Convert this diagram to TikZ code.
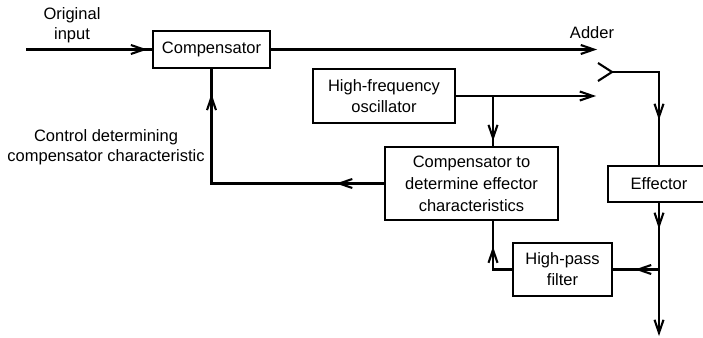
\documentclass[tikz,border=0pt]{standalone}
\usepackage{fontspec}
\setmainfont{Liberation Sans}
\usetikzlibrary{arrows.meta,positioning,calc,decorations.markings}
\tikzset{
  >={Straight Barb[length=13pt,width=9pt]},
  blk/.style={draw,line width=1.8pt,align=center,inner sep=0pt,font=\fontsize{16.5}{21}\selectfont},
  lab/.style={align=center,font=\fontsize{16.5}{20}\selectfont},
  wire/.style={line width=2.1pt},
  arr/.style={wire,->},
  midarr/.style={postaction={decorate,decoration={markings,mark=at position #1 with {\arrow[line width=2.1pt]{>}}}}},
}
\begin{document}
\begin{tikzpicture}[x=1pt,y=-1pt]
\clip (0,0) rectangle (703,337);
% blocks
\node[blk,minimum width=117pt,minimum height=37pt] (comp) at (211.5,49.5) {Compensator};
\node[blk,minimum width=142pt,minimum height=54pt] (osc) at (384,96) {High-frequency\\oscillator};
\node[blk,minimum width=173pt,minimum height=73pt,font=\fontsize{16.5}{22}\selectfont] (ecomp) at (471.5,183.5) {Compensator to\\determine effector\\characteristics};
\node[blk,minimum width=102pt,minimum height=36pt] (eff) at (659,184) {Effector};
\node[blk,minimum width=99pt,minimum height=53pt] (hpf) at (562.5,269.5) {High-pass\\filter};
% labels
\node[lab] (inlab) at (72,25) {Original\\input};
\node[lab] (addlab) at (592,33) {Adder};
\node[lab] (ctllab) at (106,147) {Control determining\\compensator characteristic};
% points
\coordinate (in) at (26,49.5);
\coordinate (a1) at (597,49.5);
\coordinate (a2) at (596,96);
\coordinate (br) at (493,96);
\coordinate (add) at (612,72);
\coordinate (tap) at (659,269.5);
\coordinate (out) at (659,336);
% connections
\draw[wire,midarr=-5pt] (in) -- (comp.west);
\draw[arr] (comp.east) -- (a1);
\draw[arr] (osc.east) -- (a2);
\draw[wire,midarr=-5pt] (br) -- (br |- ecomp.north);
\draw[wire] ($(add)+(-14,-9)$) -- (add) -- ($(add)+(-14,9)$);
\draw[wire,midarr=95pt] (add) -| (eff.north);
\draw[arr,midarr=26pt] (eff.south) -- (out);
\draw[wire,midarr=24pt] (tap) -- (hpf.east);
\draw[wire,midarr=42pt] (hpf.west) -| (br |- ecomp.south);
\draw[wire,midarr=48pt,midarr=-25pt] (ecomp.west) -| (comp.south);
\end{tikzpicture}
\end{document}
